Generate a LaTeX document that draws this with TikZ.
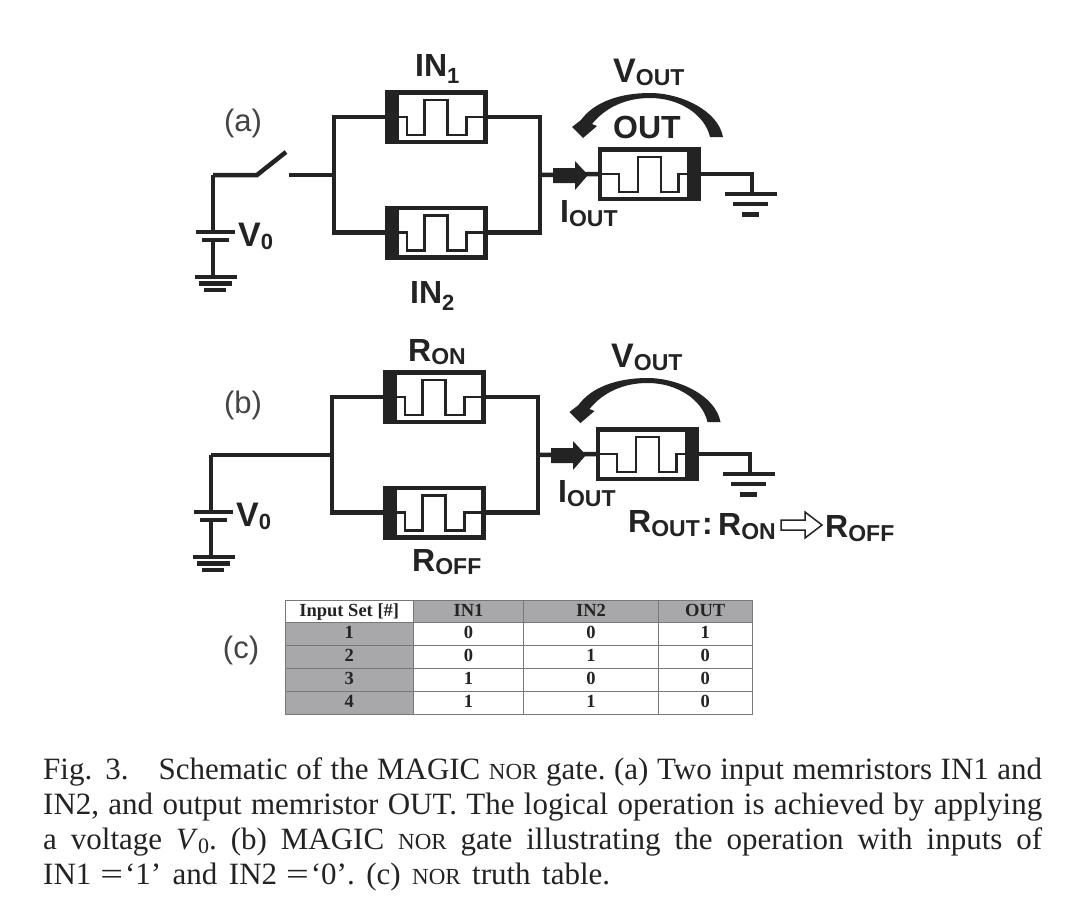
\documentclass[tikz,border=0pt]{standalone}
\usepackage{fontspec}
\setmainfont{Liberation Serif}
\newfontfamily\lsans{Liberation Sans}
\definecolor{ink}{HTML}{232323}
\definecolor{cellgray}{HTML}{A8A8AA}
\definecolor{gridline}{HTML}{77777C}
\newcommand{\smallpart}[3]{\raisebox{-#2pt}{\fontsize{#1}{#1}\selectfont #3}}
\newcommand{\bigV}{{\fontsize{34}{34}\selectfont V}}
\newcommand{\nor}{{\fontsize{23}{23}\selectfont NOR}}
\newcommand{\wideeq}{\hskip 9pt\scalebox{1.3}[1]{=}\hskip 2pt}
\tikzset{
  wire/.style={draw=ink,line width=4.5pt,line cap=butt,line join=miter},
  plate/.style={draw=ink,line width=4.5pt},
  pulse/.style={draw=ink,line width=2.4pt,line join=miter},
  membox/.style={draw=ink,line width=4.5pt,fill=white,minimum width=98pt,minimum height=49.5pt,inner sep=0pt,outer sep=0pt},
  lab/.style={font=\lsans\bfseries\fontsize{32}{32}\selectfont,text=ink,inner sep=0pt,anchor=base west},
  plabel/.style={font=\lsans\fontsize{31}{31}\selectfont,text=ink!85,inner sep=0pt},
  cell/.style={draw=gridline,line width=1pt,minimum width=#1,minimum height=22.8pt,text height=13pt,text depth=3.5pt,inner sep=0pt,outer sep=0pt,font=\bfseries\fontsize{18.5}{18.5}\selectfont,text=ink,anchor=north west},
  gcell/.style={cell=#1,fill=cellgray},
  capline/.style={inner sep=0pt,anchor=base west,text=ink,font=\fontsize{31}{35}\selectfont},
}
% name, centre x, centre y, bar side (+1 left, -1 right)
\newcommand{\memristor}[4]{%
  \node[membox] (#1) at (#2,#3) {};
  \begin{scope}[shift={(#2,#3)},xscale=#4]
    \fill[ink] (-51.5,-27) rectangle (-38,27);
    \draw[pulse] (-38,0) -- (-29.5,0) -- (-29.5,18) -- (-12,18) -- (-12,-17) -- (11,-17) -- (11,18) -- (30,18) -- (30,0) -- (49,0);
  \end{scope}
}
% prefix
\newcommand{\circuit}[1]{%
  \memristor{#1top}{436.5}{117}{1}
  \memristor{#1bot}{436.5}{232.5}{1}
  \memristor{#1out}{649}{174}{-1}
  \coordinate (#1jl) at (334,175);
  \coordinate (#1jr) at (540,175);
  \coordinate (#1corner) at (213,175);
  \coordinate (#1bat) at (213,232);
  \coordinate (#1batb) at (213,240);
  \coordinate (#1gnd) at (213,276);
  \coordinate (#1og) at (752,194);
  \draw[wire] (#1top.west) -| (#1jl) |- (#1bot.west);
  \draw[wire] (#1top.east) -| (#1jr) |- (#1bot.east);
  \draw[wire] (#1jr) -- (#1out.west);
  \draw[wire] (#1corner) -- (#1bat);
  \draw[wire] (#1batb) -- (#1gnd);
  \draw[plate] (196,232) -- (235,232);
  \draw[plate] (202,240) -- (229,240);
  \draw[plate] (195,277) -- (237,277);
  \draw[plate] (199,283.5) -- (232,283.5);
  \draw[plate] (204,290) -- (226,290);
  \draw[wire] (#1out.east) -| (#1og);
  \draw[plate] (725,194) -- (777,194);
  \draw[plate] (733,204) -- (768,204);
  \draw[line width=5pt,draw=ink] (742,214) -- (759,214);
  \fill[ink] (553,168) -- (575,168) -- (575,161) -- (588,175) -- (575,190) -- (575,183) -- (553,183) -- cycle;
}
\newcommand{\voltarc}{%
  \fill[ink] (723,137) .. controls (718,110) and (680,93) .. (650,93)
    .. controls (620,93) and (594,102) .. (581,120) -- (572,127) -- (583,138) -- (597,126) -- (592,124)
    .. controls (605,108) and (625,98) .. (650,98)
    .. controls (680,98) and (705,115) .. (710,137) -- cycle;
}
\begin{document}
\begin{tikzpicture}[x=1pt,y=-1pt]
\useasboundingbox[fill=white] (0,0) rectangle (1085,908);
% ---------- panel (a)
\circuit{a}
\coordinate (asw) at (257,175);
\coordinate (asw2) at (286,152);
\coordinate (agap) at (289,175);
\draw[wire] (acorner) -- (asw) -- (asw2);
\draw[wire] (agap) -- (ajl);
\voltarc
\node[plabel] (lbla) at (243,123) {(a)};
\node[lab] (in1) at (415,76) {IN\smallpart{22}{7}{1}};
\node[lab] (in2) at (410,303) {IN\smallpart{22}{7}{2}};
\node[lab] (va) at (238,246) {\bigV\smallpart{22}{3}{0}};
\node[lab] (vouta) at (613,82) {\bigV\smallpart{23}{3}{OUT}};
\node[lab] (outlbl) at (613,138) {OUT};
\node[lab] (iouta) at (560,222) {I\smallpart{23}{4}{OUT}};
% ---------- panel (b)
\begin{scope}[shift={(-2,280)}]
\circuit{b}
\draw[wire] (bcorner) -- (bjl);
\end{scope}
\begin{scope}[shift={(-2.5,285)}]
\voltarc
\end{scope}
\node[plabel] (lblb) at (243,405) {(b)};
\node[lab] (ron) at (408,361) {R\smallpart{23}{3}{ON}};
\node[lab] (roff) at (412,571) {R\smallpart{23}{3}{OFF}};
\node[lab] (vb) at (236,526) {\bigV\smallpart{22}{3}{0}};
\node[lab] (voutb) at (611,367) {\bigV\smallpart{23}{3}{OUT}};
\node[lab] (ioutb) at (558,502) {I\smallpart{23}{4}{OUT}};
\node[lab] (rout) at (628,532) {R\smallpart{23}{4}{OUT}};
\node[lab] (colon) at (702,534) {:};
\node[lab] (ronb) at (718,535) {R\smallpart{23}{4}{ON}};
\node[lab] (roffb) at (825,537) {R\smallpart{23}{4}{OFF}};
\draw[draw=ink,line width=1.5pt,fill=white,line join=miter]
  (781,520) -- (805,520) -- (805,512) -- (822,525) -- (805,538) -- (805,530) -- (781,530) -- cycle;
% ---------- panel (c)
\node[plabel] (lblc) at (241,650) {(c)};
\node[cell=128.5pt] (h0) at (285,600) {Input Set [\#]};
\node[gcell=110pt] (h1) at (h0.north east) {IN1};
\node[gcell=135pt] (h2) at (h1.north east) {IN2};
\node[gcell=93.5pt] (h3) at (h2.north east) {OUT};
\node[gcell=128.5pt] (r10) at (h0.south west) {1};
\node[cell=110pt] (r11) at (r10.north east) {0};
\node[cell=135pt] (r12) at (r11.north east) {0};
\node[cell=93.5pt] (r13) at (r12.north east) {1};
\node[gcell=128.5pt] (r20) at (r10.south west) {2};
\node[cell=110pt] (r21) at (r20.north east) {0};
\node[cell=135pt] (r22) at (r21.north east) {1};
\node[cell=93.5pt] (r23) at (r22.north east) {0};
\node[gcell=128.5pt] (r30) at (r20.south west) {3};
\node[cell=110pt] (r31) at (r30.north east) {1};
\node[cell=135pt] (r32) at (r31.north east) {0};
\node[cell=93.5pt] (r33) at (r32.north east) {0};
\node[gcell=128.5pt] (r40) at (r30.south west) {4};
\node[cell=110pt] (r41) at (r40.north east) {1};
\node[cell=135pt] (r42) at (r41.north east) {1};
\node[cell=93.5pt] (r43) at (r42.north east) {0};
% ---------- caption
\node[capline] (c1) at (43,779) {\frenchspacing\hbox to 999pt{Fig.\hskip 13pt 3.\hskip 30pt Schematic of the MAGIC \nor{} gate. (a) Two input memristors IN1 and}};
\node[capline] (c2) at (43,814) {\frenchspacing\hbox to 999pt{IN2, and output memristor OUT. The logical operation is achieved by applying}};
\node[capline] (c3) at (43,849) {\frenchspacing\hbox to 999pt{a voltage \textit{V}\raisebox{-4pt}{\fontsize{22}{22}\selectfont 0}. (b) MAGIC \nor{} gate illustrating the operation with inputs of}};
\node[capline] (c4) at (43,884) {\frenchspacing\hbox to 567pt{IN1\wideeq `1' and IN2\wideeq `0'. (c) \nor{} truth table.}};
\end{tikzpicture}
\end{document}
